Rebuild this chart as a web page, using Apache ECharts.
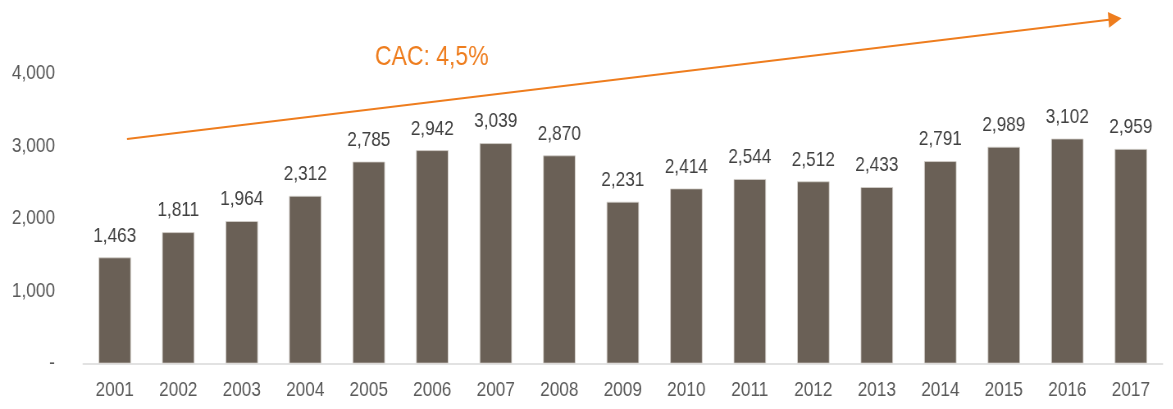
<!DOCTYPE html>
<html>
<head>
<meta charset="utf-8">
<script src="https://cdn.jsdelivr.net/npm/echarts@6/dist/echarts.min.js"></script>
<style>
  html, body { margin: 0; padding: 0; background: #fff; overflow: hidden; }
  /* The chart is laid out on a wider canvas and squeezed horizontally,
     which gives the narrow, Arial-Narrow-like lettering. */
  #wrap { width: 1173px; height: 409px; overflow: hidden; }
  #chart { height: 409px; transform-origin: 0 0; }
</style>
</head>
<body>
<div id="wrap"><div id="chart"></div></div>
<script>
// Annual values, 2001–2017
const years = ['2001','2002','2003','2004','2005','2006','2007','2008','2009',
               '2010','2011','2012','2013','2014','2015','2016','2017'];
const values = [1463, 1811, 1964, 2312, 2785, 2942, 3039, 2870, 2231,
                2414, 2544, 2512, 2433, 2791, 2989, 3102, 2959];
const growthLabel = 'CAC: 4,5%';

const SX = 0.82;                 // horizontal squeeze factor
const W = 1173, H = 409;
const X = px => px / SX;         // final-pixel x -> pre-squeeze x

const el = document.getElementById('chart');
el.style.width = X(W) + 'px';
el.style.transform = 'scaleX(' + SX + ')';

const FONT = '"Liberation Sans", Arial, sans-serif';
const fmt = v => v.toLocaleString('en-US');

const chart = echarts.init(el);
chart.setOption({
  animation: false,
  grid: { left: X(83), right: X(10), top: 1, bottom: 45.5 },
  xAxis: {
    type: 'category',
    data: years,
    axisLine: { lineStyle: { color: '#d9d9d9', width: 1.5 } },
    axisTick: { show: false },
    axisLabel: { color: '#595959', fontFamily: FONT, fontSize: 21, margin: 16 }
  },
  yAxis: {
    type: 'value',
    min: 0, max: 5000, interval: 1000,
    splitLine: { show: false },
    axisLine: { show: false },
    axisTick: { show: false },
    axisLabel: {
      color: '#595959', fontFamily: FONT, fontSize: 21, margin: X(28),
      formatter: v => v === 0 ? '-' : (v >= 5000 ? '' : fmt(v))
    }
  },
  series: [{
    type: 'bar',
    data: values,
    barWidth: '51%',
    itemStyle: { color: '#6a6056', borderColor: '#d6d2cd', borderWidth: 0.8 },
    label: {
      show: true, position: 'top', distance: 11,
      color: '#404040', fontFamily: FONT, fontSize: 21,
      formatter: p => fmt(p.value)
    },
    markLine: {
      silent: true,
      symbol: ['none', 'triangle'],
      symbolSize: [13 / SX, 16],
      lineStyle: { color: '#ee7d1e', width: 2, type: 'solid' },
      label: { show: false },
      data: [[{ x: X(127), y: 139 }, { x: X(1115), y: 19 }]]
    }
  }],
  graphic: [{
    type: 'text',
    left: X(375), top: 43,
    style: { text: growthLabel, fill: '#ee7d1e', font: '28px ' + FONT }
  }]
});
</script>
</body>
</html>
